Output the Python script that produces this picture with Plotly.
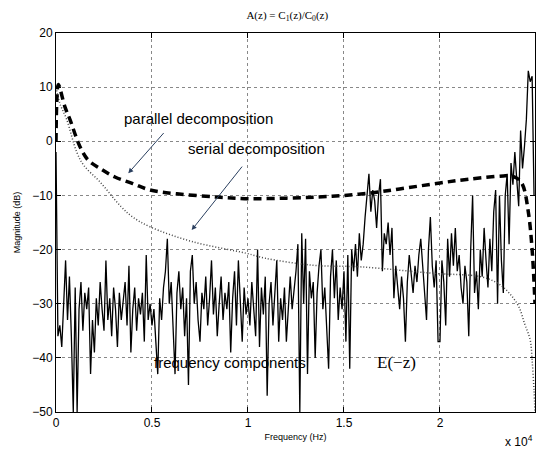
import plotly.graph_objects as go

# measured spectrum (dB), one value every 100 Hz from 0 to 24900 Hz
noise_freq = list(range(0, 25000, 100))
noise_db = [
    -2, -36, -34, -38, -30, -22, -33, -25, -36, -50,
    -27, -50, -31, -26, -35, -28, -31, -27, -43, -33,
    -39, -29, -34, -26, -31, -35, -22, -33, -29, -36,
    -27, -31, -38, -28, -33, -30, -26, -34, -23, -39,
    -31, -27, -35, -29, -32, -28, -37, -21, -33, -30,
    -34, -31, -38, -43, -29, -33, -27, -24, -18, -30,
    -26, -35, -43, -28, -24, -31, -27, -36, -29, -45,
    -24, -21, -30, -26, -33, -37, -28, -31, -25, -34,
    -29, -22, -32, -27, -36, -30, -25, -33, -28, -31,
    -26, -39, -29, -24, -34, -22, -30, -37, -27, -32,
    -29, -34, -26, -31, -36, -20, -38, -27, -32, -25,
    -47, -30, -26, -34, -28, -22, -37, -29, -33, -27,
    -37, -30, -25, -31, -28, -24, -19, -50, -17, -30,
    -18, -43, -24, -29, -26, -40, -28, -23, -20, -31,
    -27, -35, -42, -25, -20, -29, -22, -33, -27, -31,
    -24, -37, -21, -42, -20, -24, -19, -25, -17, -22,
    -19, -14, -10, -6, -13, -9, -11, -16, -10, -7,
    -24, -17, -19, -15, -21, -16, -29, -23, -27, -31,
    -25, -29, -37, -26, -21, -25, -28, -23, -26, -21,
    -18, -23, -29, -33, -20, -14, -23, -27, -22, -37,
    -37, -22, -26, -34, -18, -25, -17, -23, -16, -24,
    -21, -27, -30, -23, -26, -36, -20, -10, -28, -24,
    -31, -20, -25, -16, -22, -27, -18, -24, -13, -9,
    -30, -10, -22, -28, -10, -6, -19, -4, -8, -2,
    -7, -12, 2, -5, -1, 4, 13, 11, 12, -10,
]

# parallel decomposition curve
par_freq = [0, 50, 120, 470, 730, 1250, 1680, 2290, 3070, 4000, 4900, 6290,
            8400, 10100, 12000, 13600, 15000, 16500, 17900, 20000, 21500,
            23300, 23700, 24000, 24300, 24600, 24800, 24950]
par_db = [0, 8, 10.5, 6.3, 4, -1, -3.5, -5, -6.6, -7.8, -9, -9.7,
          -10.3, -10.6, -10.5, -10.3, -10, -9.5, -8.8, -7.7, -7,
          -6.4, -6.4, -6.8, -8, -13, -20, -30]

# serial decomposition curve
ser_freq = [0, 200, 560, 1080, 1460, 2290, 3370, 4000, 4900, 7070, 9930,
            10900, 13400, 15900, 19700, 22100, 23000, 23600, 24100, 24400,
            24700, 24800, 24900, 24950]
ser_db = [10, 7, 4, -2, -4.5, -7.5, -12, -14, -15.8, -18.5, -20.7,
          -21.6, -22.9, -23.2, -24.4, -25, -26.2, -28, -30.5, -33.6,
          -36.7, -40.4, -46, -50]

x_ticks = [0, 5000, 10000, 15000, 20000]
x_labels = ["0", "0.5", "1", "1.5", "2"]
y_ticks = [20, 10, 0, -10, -20, -30, -40, -50]

fig = go.Figure()
fig.add_trace(go.Scatter(x=noise_freq, y=noise_db, mode="lines",
                         line={"color": "black", "width": 1.3}))
fig.add_trace(go.Scatter(x=ser_freq, y=ser_db, mode="lines", line_shape="spline",
                         line={"color": "#444", "width": 1.5, "dash": "1px,2px"}))
fig.add_trace(go.Scatter(x=par_freq, y=par_db, mode="lines", line_shape="spline",
                         line={"color": "black", "width": 3.5, "dash": "8px,5px"}))

axis_style = dict(
    showline=True, mirror="allticks", linecolor="black", linewidth=1,
    ticks="inside", ticklen=5, tickcolor="black", automargin=False,
    showgrid=True, gridcolor="#888", griddash="dot", gridwidth=1,
    zeroline=False,
    tickfont={"family": "Liberation Sans, Arial", "size": 12, "color": "black"},
)
fig.update_xaxes(range=[0, 24950], tickvals=x_ticks, ticktext=x_labels,
                 title={"text": "Frequency (Hz)", "font": {"size": 9}, "standoff": 4},
                 **axis_style)
fig.update_yaxes(range=[-50, 20], tickvals=y_ticks,
                 title={"text": "Magnitude (dB)", "font": {"size": 9}, "standoff": 10},
                 **axis_style)

label_font = {"family": "Liberation Sans, Arial", "size": 15, "color": "black"}
fig.add_annotation(x=3766, y=-5.9, ax=5677, ay=1.8, axref="x", ayref="y",
                   showarrow=True, arrowhead=2, arrowsize=1, arrowwidth=1, text="")
fig.add_annotation(x=7068, y=-16.4, ax=9755, ay=-4.4, axref="x", ayref="y",
                   showarrow=True, arrowhead=2, arrowsize=1, arrowwidth=1, text="")
fig.add_annotation(x=3440, y=4.3, text="parallel decomposition", showarrow=False,
                   xanchor="left", font=label_font)
fig.add_annotation(x=6770, y=-1.4, text="serial decomposition", showarrow=False,
                   xanchor="left", font=label_font)
fig.add_annotation(x=5020, y=-40.8, text="frequency components", showarrow=False,
                   xanchor="left", font=label_font)
fig.add_annotation(x=16600, y=-40.8, text="E(−z)", showarrow=False, xanchor="left",
                   font={"family": "Liberation Serif, Times New Roman", "size": 17, "color": "black"})
fig.add_annotation(x=1, y=-0.05, xref="paper", yref="paper", xanchor="right",
                   yanchor="top", text="x 10<sup>4</sup>", showarrow=False,
                   font={"family": "Liberation Sans, Arial", "size": 12, "color": "black"})

fig.update_layout(
    width=539, height=449,
    margin={"l": 56, "r": 4, "t": 33, "b": 37},
    paper_bgcolor="white", plot_bgcolor="white",
    showlegend=False,
    font={"family": "Liberation Sans, Arial", "color": "black"},
    title={"text": "A(z) = C<sub>1</sub>(z)/C<sub>0</sub>(z)", "x": 0.533, "xanchor": "center",
           "y": 0.975, "yanchor": "top",
           "font": {"family": "Liberation Serif, Times New Roman", "size": 11, "color": "black"}},
)

fig.write_html("out.html", config={"displayModeBar": False},
               post_script="document.body.style.margin='0';")
